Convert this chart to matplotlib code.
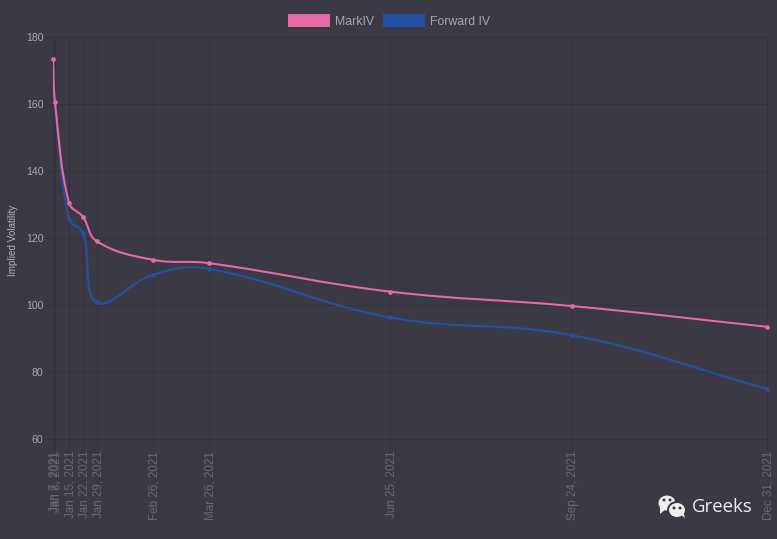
import math
from datetime import date

import numpy as np
import matplotlib
matplotlib.use("Agg")
import matplotlib.pyplot as plt
import matplotlib.dates as mdates
from matplotlib.patches import Ellipse, Patch, PathPatch, Polygon
from matplotlib.path import Path
from matplotlib.transforms import ScaledTranslation

plt.rcParams['font.family'] = ['Liberation Sans', 'DejaVu Sans']

expiries = [date(2021, 1, 7), date(2021, 1, 8), date(2021, 1, 15), date(2021, 1, 22),
            date(2021, 1, 29), date(2021, 2, 26), date(2021, 3, 26), date(2021, 6, 25),
            date(2021, 9, 24), date(2021, 12, 31)]
expiry_labels = ['Jan 7, 2021', 'Jan 8, 2021', 'Jan 15, 2021', 'Jan 22, 2021', 'Jan 29, 2021',
                 'Feb 26, 2021', 'Mar 26, 2021', 'Jun 25, 2021', 'Sep 24, 2021', 'Dec 31, 2021']
mark_iv = [173.5, 160.5, 130.5, 126.3, 119.0, 113.5, 112.5, 104.0, 99.7, 93.5]
forward_iv = [173.5, 160.5, 125.7, 121.6, 100.8, 109.0, 110.8, 96.3, 91.0, 75.0]
y_ticks = [60, 80, 100, 120, 140, 160, 180]

BG = '#3a3944'
GRID = '#33323c'
PINK = '#e46aa8'
BLUE = '#2250a2'
W, H = 777, 539


def spline_path(ax, xs, ys, tension=0.4):
    # same control points a chart.js line gets, worked out in pixels
    pts = ax.transData.transform(np.column_stack([xs, ys]))
    n = len(pts)
    before = [None] * n
    after = [None] * n
    for i in range(n):
        p0 = pts[max(i - 1, 0)]
        p1 = pts[i]
        p2 = pts[min(i + 1, n - 1)]
        d01 = math.dist(p0, p1)
        d12 = math.dist(p1, p2)
        s01 = d01 / (d01 + d12)
        s12 = d12 / (d01 + d12)
        before[i] = p1 - tension * s01 * (p2 - p0)
        after[i] = p1 + tension * s12 * (p2 - p0)
    verts = [pts[0]]
    codes = [Path.MOVETO]
    for i in range(n - 1):
        verts += [after[i], before[i + 1], pts[i + 1]]
        codes += [Path.CURVE4] * 3
    return Path(verts, codes)


def draw_series(ax, xs, ys, color, z):
    ax.add_patch(PathPatch(spline_path(ax, xs, ys), transform=None, fc='none', ec=color,
                           lw=1.5, zorder=z, capstyle='round', joinstyle='round'))
    ax.plot(xs, ys, ls='none', marker='o', ms=3.4, mfc=color, mec=color, mew=0, zorder=z + 0.1,
            clip_on=False)


def draw_bubble(fig, cx, cy, rx, ry, tail, eyes):
    # cx, cy etc. are image pixels, y going down
    to_fig = lambda x, y: (x / W, 1 - y / H)
    fig.add_artist(Ellipse(to_fig(cx, cy), 2 * rx / W, 2 * ry / H, fc='#eeeeee', ec='none',
                           transform=fig.transFigure))
    fig.add_artist(Polygon([to_fig(*p) for p in tail], fc='#eeeeee', ec='none',
                           transform=fig.transFigure))
    for ex, ey in eyes:
        fig.add_artist(Ellipse(to_fig(ex, ey), 3 / W, 3 / H, fc=BG, ec='none',
                               transform=fig.transFigure))


def main():
    fig = plt.figure(figsize=(W / 100, H / 100), dpi=100, facecolor=BG)
    ax = fig.add_axes([53 / W, 1 - 439 / H, (767 - 53) / W, (439 - 37) / H], facecolor=BG)

    xs = mdates.date2num(expiries)
    ax.set_xlim(xs[0], xs[-1])
    ax.set_ylim(60, 180)

    ax.set_yticks(y_ticks)
    ax.set_xticks(xs)
    ax.set_xticklabels(expiry_labels, rotation=90, ha='center', va='top')
    ax.grid(True, color=GRID, lw=0.72)
    ax.set_axisbelow(True)
    for s in ax.spines.values():
        s.set_color(GRID)
        s.set_linewidth(0.72)
    ax.tick_params(axis='x', length=8, width=0.72, color=GRID, labelcolor='#6a6973',
                   labelsize=8.4, pad=0.5)
    ax.tick_params(axis='y', length=6, width=0.72, color=GRID, labelcolor='#a9a9ae',
                   labelsize=7.6, pad=0.8)
    # rotated labels sit a bit right of where matplotlib centres them
    nudge = ScaledTranslation(1.5 / 100, 0, fig.dpi_scale_trans)
    for lab in ax.get_xticklabels():
        lab.set_transform(lab.get_transform() + nudge)
    ax.set_ylabel('Implied Volatility', color='#b5b5ba', fontsize=7.1)
    ax.yaxis.set_label_coords((18 - 53) / (767 - 53), 0.495)

    draw_series(ax, xs, forward_iv, BLUE, 3)
    draw_series(ax, xs, mark_iv, PINK, 4)

    handles = [Patch(fc=PINK, ec='none', label='MarkIV'),
               Patch(fc=BLUE, ec='none', label='Forward IV')]
    fig.legend(handles=handles, loc='center', bbox_to_anchor=(389 / W, 1 - 21 / H), ncol=2,
               frameon=False, fontsize=8.8, labelcolor='#a9a9ae', handlelength=3.45,
               handleheight=1.15, handletextpad=0.45, columnspacing=0.7, borderpad=0)

    draw_bubble(fig, 667, 503, 8.5, 7.5, [(660, 507), (660, 514), (666, 509)],
                [(664, 500), (670, 500)])
    fig.add_artist(Ellipse((677 / W, 1 - 510 / H), 20 / W, 18 / H, fc=BG, ec='none',
                           transform=fig.transFigure))
    draw_bubble(fig, 677, 510, 8, 7, [(680, 514), (685, 518), (683, 511)],
                [(674, 508), (680, 508)])
    fig.text(692 / W, 1 - 507 / H, 'Greeks', color='#eeeeee', fontsize=13.4,
             family=['Open Sans', 'DejaVu Sans'], ha='left', va='center')

    fig.savefig('out.png', dpi=100, facecolor=BG)


if __name__ == "__main__":
    main()
